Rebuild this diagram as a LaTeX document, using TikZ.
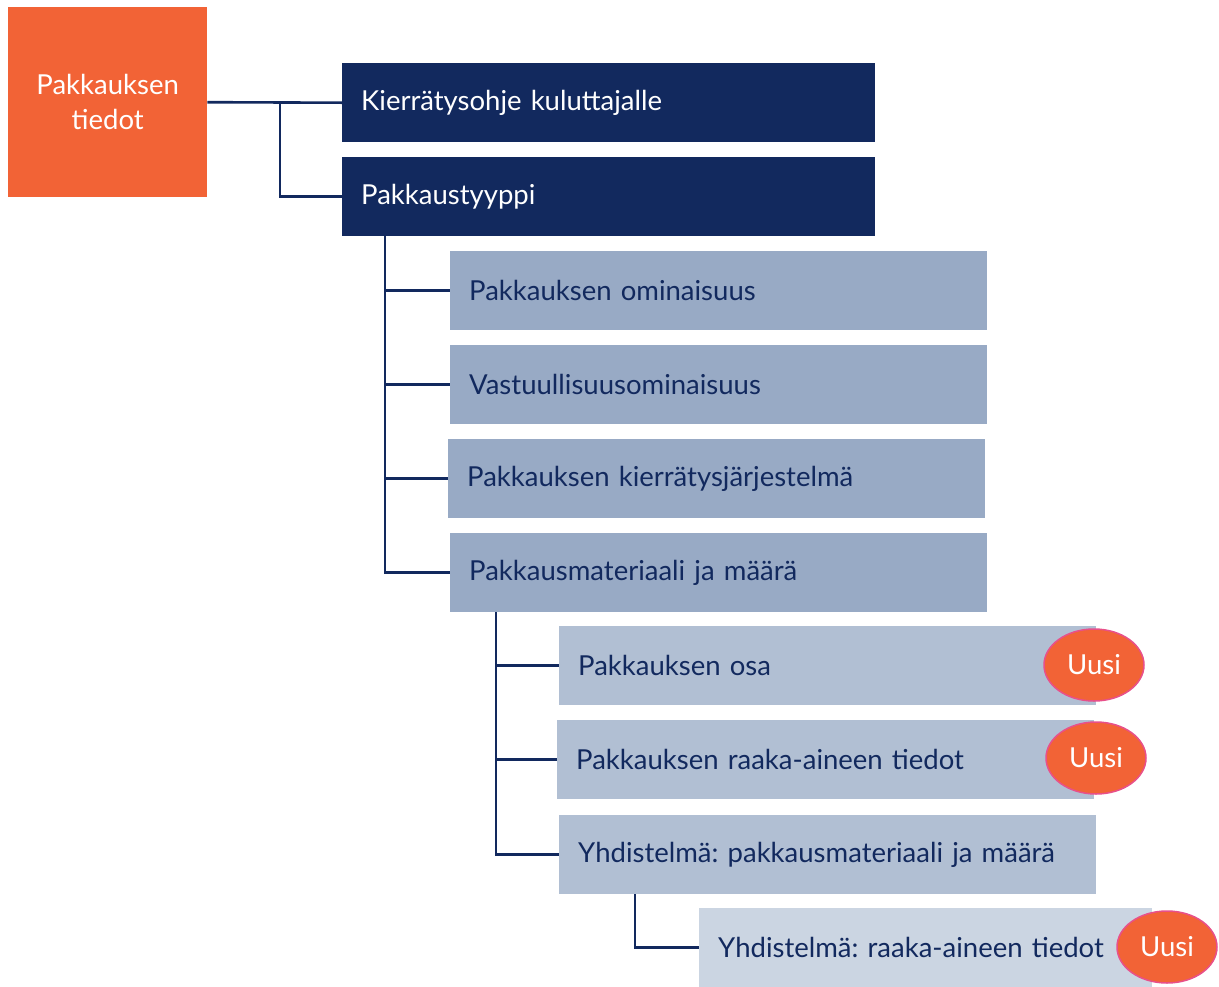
\documentclass[tikz,border=0pt]{standalone}
\usepackage{fontspec}
\setmainfont{Lato}
\usepackage{xcolor}
\usetikzlibrary{shapes.geometric}
\usetikzlibrary{positioning,calc}

\definecolor{oranssi}{HTML}{F26336}
\definecolor{tummasin}{HTML}{12295E}
\definecolor{sininen2}{HTML}{98AAC5}
\definecolor{sininen3}{HTML}{B1BFD3}
\definecolor{sininen4}{HTML}{CBD5E2}
\definecolor{pinkki}{HTML}{E8508A}

\begin{document}
\frenchspacing
\begin{tikzpicture} [
       x=1pt, y=-1pt,
       font=\fontsize{27.5}{35}\selectfont,
       juuri/.style={rectangle, fill=oranssi, text=white, minimum width=199pt,
               minimum height=190pt, align=center, anchor=north west, inner sep=0pt},
       laatikko/.style={rectangle, anchor=north west, minimum height=79pt,
               inner xsep=19pt, inner ysep=0pt, align=left},
       taso1/.style={laatikko, fill=tummasin, text=white, text width=495pt},
       taso2/.style={laatikko, fill=sininen2, text=tummasin, text width=499pt},
       taso3/.style={laatikko, fill=sininen3, text=tummasin, text width=499pt},
       taso4/.style={laatikko, fill=sininen4, text=tummasin, text width=415pt},
       uusi/.style={ellipse, fill=oranssi, draw=pinkki, line width=1.5pt, text=white,
               minimum width=100pt, minimum height=72pt, inner sep=0pt},
        line/.style     = { draw, tummasin, line width=2.6pt },
       ]
       \useasboundingbox (0,0) rectangle (1219,986);
       \node (tiedot) [juuri] at (8,7) {Pakkauksen\\tiedot};
       \node (ohje) [taso1] at (342,63) {Kierrätysohje kuluttajalle};
       \node (tyyppi) [taso1] at (342,157) {Pakkaustyyppi};
       \node (omin) [taso2] at (450,251) {Pakkauksen ominaisuus};
       \node (vastuu) [taso2] at (450,345) {Vastuullisuusominaisuus};
       \node (kierr) [taso2] at (448,439) {Pakkauksen kierrätysjärjestelmä};
       \node (mat) [taso2] at (450,533) {Pakkausmateriaali ja määrä};
       \node (osa) [taso3] at (559,626) {Pakkauksen osa};
       \node (raaka) [taso3] at (557,720) {Pakkauksen raaka-aineen tiedot};
       \node (yhd) [taso3] at (559,815) {Yhdistelmä: pakkausmateriaali ja määrä};
       \node (yhdraaka) [taso4] at (699,908) {Yhdistelmä: raaka-aineen tiedot};
       \node (uusi1) [uusi] at (1094,665) {Uusi};
       \node (uusi2) [uusi] at (1096,758) {Uusi};
       \node (uusi3) [uusi] at (1167,947) {Uusi};
       % haarat
       \coordinate (h1) at ($(tiedot.east)!0.54!(ohje.west)$);
       \coordinate (h2) at ([xshift=43pt]tyyppi.south west);
       \coordinate (h3) at ([xshift=46pt]mat.south west);
       \coordinate (h4) at ([xshift=76pt]yhd.south west);
        \begin{scope}[every path/.style=line]
        \path (tiedot.east) -- (ohje.west);
        \path (h1) |- (tyyppi.west);
        \path (h2) |- (mat.west);
        \foreach \n in {omin,vastuu,kierr}
            \path (h2 |- \n.west) -- (\n.west);
        \path (h3) |- (yhd.west);
        \foreach \n in {osa,raaka}
            \path (h3 |- \n.west) -- (\n.west);
        \path (h4) |- (yhdraaka.west);
\end{scope}
\end{tikzpicture}
\end{document}
